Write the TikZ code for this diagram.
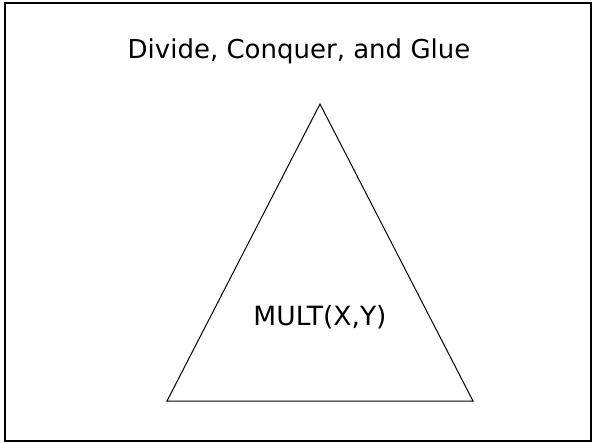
\documentclass[tikz,border=0pt]{standalone}
\usepackage{fontspec}
\setmainfont{DejaVu Sans}
\usepackage{tikz}
\usetikzlibrary{positioning,calc}

\begin{document}
\begin{tikzpicture}[
  x=1pt,y=-1pt,
  frame/.style={draw=black,line width=2pt},
  edge/.style={draw=black,line width=1pt,line join=miter},
  title/.style={font=\fontsize{26}{30}\selectfont,inner sep=0pt,anchor=base},
  label/.style={font=\fontsize{26.5}{31}\selectfont,inner sep=0pt,anchor=base}
]
\useasboundingbox (0,0) rectangle (595,444);
\draw[frame] (5,3) rectangle (591,441);
\node[title] (heading) at (299,59) {Divide, Conquer, and Glue};
% the triangle
\coordinate (apex) at (320,104);
\coordinate (left) at (167,401);
\coordinate (right) at (473,401);
\draw[edge] (apex) -- (left) -- (right) -- cycle;
\node[label] (mult) at (320,325) {MULT(X,Y)};
\end{tikzpicture}
\end{document}
